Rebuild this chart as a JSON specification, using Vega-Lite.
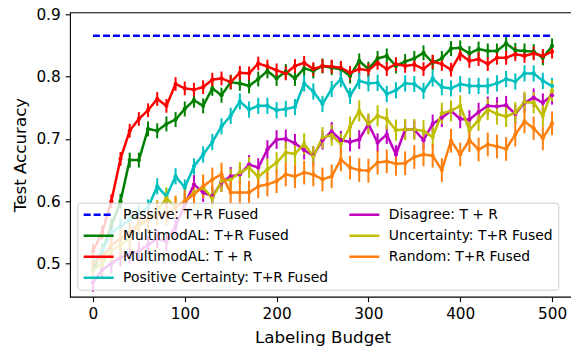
{
  "$schema": "https://vega.github.io/schema/vega-lite/v6.json",
  "width": 505,
  "height": 284.4,
  "autosize": "none",
  "padding": {"left": 70, "top": 12.3, "right": 0, "bottom": 52},
  "background": "white",
  "config": {
    "view": {"stroke": "#000000", "strokeWidth": 1.1},
    "font": "DejaVu Sans",
    "axis": {
      "grid": false, "domain": false, "tickColor": "#000000", "tickSize": 4.9, "tickWidth": 1.1,
      "labelFont": "DejaVu Sans", "labelFontSize": 15.3, "labelColor": "#000000", "labelPadding": 4.9,
      "titleFont": "DejaVu Sans", "titleFontSize": 16.7, "titleFontWeight": "normal", "titleColor": "#000000"
    },
    "legend": {
      "orient": "none", "legendX": 7.3, "legendY": 190.4, "columns": 2, "columnPadding": 15.7, "rowPadding": 6,
      "symbolType": "M-1.12,0H4.88", "symbolSize": 100, "symbolStrokeWidth": 2.5, "symbolFillColor": "transparent",
      "labelFont": "DejaVu Sans", "labelFontSize": 13.9, "labelColor": "#000000", "labelOffset": 26.9, "labelLimit": 400,
      "padding": 5, "fillColor": "rgba(255,255,255,0.8)", "strokeColor": "#cccccc", "cornerRadius": 3
    }
  },
  "data": {"values": [
    {"s":"Passive: T+R Fused","b":0,"v":0.8655,"e":0},{"s":"Passive: T+R Fused","b":500,"v":0.8655,"e":0},
    {"s":"MultimodAL: T+R Fused","b":0,"v":0.49,"e":0.012},{"s":"MultimodAL: T+R Fused","b":10,"v":0.52,"e":0.012},{"s":"MultimodAL: T+R Fused","b":20,"v":0.56,"e":0.012},{"s":"MultimodAL: T+R Fused","b":30,"v":0.6,"e":0.012},{"s":"MultimodAL: T+R Fused","b":40,"v":0.666,"e":0.012},{"s":"MultimodAL: T+R Fused","b":50,"v":0.666,"e":0.012},{"s":"MultimodAL: T+R Fused","b":60,"v":0.716,"e":0.012},{"s":"MultimodAL: T+R Fused","b":70,"v":0.713,"e":0.012},{"s":"MultimodAL: T+R Fused","b":80,"v":0.724,"e":0.012},{"s":"MultimodAL: T+R Fused","b":90,"v":0.731,"e":0.012},
    {"s":"MultimodAL: T+R Fused","b":100,"v":0.748,"e":0.012},{"s":"MultimodAL: T+R Fused","b":110,"v":0.762,"e":0.012},{"s":"MultimodAL: T+R Fused","b":120,"v":0.753,"e":0.012},{"s":"MultimodAL: T+R Fused","b":130,"v":0.781,"e":0.012},{"s":"MultimodAL: T+R Fused","b":140,"v":0.77,"e":0.012},{"s":"MultimodAL: T+R Fused","b":150,"v":0.791,"e":0.012},{"s":"MultimodAL: T+R Fused","b":160,"v":0.789,"e":0.012},{"s":"MultimodAL: T+R Fused","b":170,"v":0.785,"e":0.012},{"s":"MultimodAL: T+R Fused","b":180,"v":0.796,"e":0.012},{"s":"MultimodAL: T+R Fused","b":190,"v":0.809,"e":0.012},
    {"s":"MultimodAL: T+R Fused","b":200,"v":0.797,"e":0.012},{"s":"MultimodAL: T+R Fused","b":210,"v":0.808,"e":0.012},{"s":"MultimodAL: T+R Fused","b":220,"v":0.797,"e":0.012},{"s":"MultimodAL: T+R Fused","b":230,"v":0.813,"e":0.012},{"s":"MultimodAL: T+R Fused","b":240,"v":0.809,"e":0.012},{"s":"MultimodAL: T+R Fused","b":250,"v":0.817,"e":0.012},{"s":"MultimodAL: T+R Fused","b":260,"v":0.814,"e":0.012},{"s":"MultimodAL: T+R Fused","b":270,"v":0.812,"e":0.012},{"s":"MultimodAL: T+R Fused","b":280,"v":0.801,"e":0.012},{"s":"MultimodAL: T+R Fused","b":290,"v":0.825,"e":0.012},
    {"s":"MultimodAL: T+R Fused","b":300,"v":0.812,"e":0.012},{"s":"MultimodAL: T+R Fused","b":310,"v":0.829,"e":0.012},{"s":"MultimodAL: T+R Fused","b":320,"v":0.833,"e":0.012},{"s":"MultimodAL: T+R Fused","b":330,"v":0.817,"e":0.012},{"s":"MultimodAL: T+R Fused","b":340,"v":0.824,"e":0.012},{"s":"MultimodAL: T+R Fused","b":350,"v":0.829,"e":0.012},{"s":"MultimodAL: T+R Fused","b":360,"v":0.838,"e":0.012},{"s":"MultimodAL: T+R Fused","b":370,"v":0.822,"e":0.012},{"s":"MultimodAL: T+R Fused","b":380,"v":0.829,"e":0.012},{"s":"MultimodAL: T+R Fused","b":390,"v":0.845,"e":0.012},
    {"s":"MultimodAL: T+R Fused","b":400,"v":0.846,"e":0.012},{"s":"MultimodAL: T+R Fused","b":410,"v":0.837,"e":0.012},{"s":"MultimodAL: T+R Fused","b":420,"v":0.844,"e":0.012},{"s":"MultimodAL: T+R Fused","b":430,"v":0.841,"e":0.012},{"s":"MultimodAL: T+R Fused","b":440,"v":0.841,"e":0.012},{"s":"MultimodAL: T+R Fused","b":450,"v":0.853,"e":0.012},{"s":"MultimodAL: T+R Fused","b":460,"v":0.842,"e":0.012},{"s":"MultimodAL: T+R Fused","b":470,"v":0.841,"e":0.012},{"s":"MultimodAL: T+R Fused","b":480,"v":0.84,"e":0.012},{"s":"MultimodAL: T+R Fused","b":490,"v":0.83,"e":0.012},{"s":"MultimodAL: T+R Fused","b":500,"v":0.849,"e":0.012},
    {"s":"MultimodAL: T + R","b":0,"v":0.52,"e":0.011},{"s":"MultimodAL: T + R","b":10,"v":0.55,"e":0.011},{"s":"MultimodAL: T + R","b":20,"v":0.6,"e":0.011},{"s":"MultimodAL: T + R","b":30,"v":0.668,"e":0.011},{"s":"MultimodAL: T + R","b":40,"v":0.713,"e":0.011},{"s":"MultimodAL: T + R","b":50,"v":0.732,"e":0.011},{"s":"MultimodAL: T + R","b":60,"v":0.746,"e":0.011},{"s":"MultimodAL: T + R","b":70,"v":0.764,"e":0.011},{"s":"MultimodAL: T + R","b":80,"v":0.753,"e":0.011},{"s":"MultimodAL: T + R","b":90,"v":0.788,"e":0.011},
    {"s":"MultimodAL: T + R","b":100,"v":0.781,"e":0.011},{"s":"MultimodAL: T + R","b":110,"v":0.779,"e":0.011},{"s":"MultimodAL: T + R","b":120,"v":0.783,"e":0.011},{"s":"MultimodAL: T + R","b":130,"v":0.795,"e":0.011},{"s":"MultimodAL: T + R","b":140,"v":0.797,"e":0.011},{"s":"MultimodAL: T + R","b":150,"v":0.791,"e":0.011},{"s":"MultimodAL: T + R","b":160,"v":0.806,"e":0.011},{"s":"MultimodAL: T + R","b":170,"v":0.805,"e":0.011},{"s":"MultimodAL: T + R","b":180,"v":0.821,"e":0.011},{"s":"MultimodAL: T + R","b":190,"v":0.816,"e":0.011},
    {"s":"MultimodAL: T + R","b":200,"v":0.81,"e":0.011},{"s":"MultimodAL: T + R","b":210,"v":0.805,"e":0.011},{"s":"MultimodAL: T + R","b":220,"v":0.817,"e":0.011},{"s":"MultimodAL: T + R","b":230,"v":0.822,"e":0.011},{"s":"MultimodAL: T + R","b":240,"v":0.812,"e":0.011},{"s":"MultimodAL: T + R","b":250,"v":0.817,"e":0.011},{"s":"MultimodAL: T + R","b":260,"v":0.816,"e":0.011},{"s":"MultimodAL: T + R","b":270,"v":0.814,"e":0.011},{"s":"MultimodAL: T + R","b":280,"v":0.806,"e":0.011},{"s":"MultimodAL: T + R","b":290,"v":0.812,"e":0.011},
    {"s":"MultimodAL: T + R","b":300,"v":0.81,"e":0.011},{"s":"MultimodAL: T + R","b":310,"v":0.822,"e":0.011},{"s":"MultimodAL: T + R","b":320,"v":0.812,"e":0.011},{"s":"MultimodAL: T + R","b":330,"v":0.82,"e":0.011},{"s":"MultimodAL: T + R","b":340,"v":0.817,"e":0.011},{"s":"MultimodAL: T + R","b":350,"v":0.819,"e":0.011},{"s":"MultimodAL: T + R","b":360,"v":0.812,"e":0.011},{"s":"MultimodAL: T + R","b":370,"v":0.824,"e":0.011},{"s":"MultimodAL: T + R","b":380,"v":0.82,"e":0.011},{"s":"MultimodAL: T + R","b":390,"v":0.811,"e":0.011},
    {"s":"MultimodAL: T + R","b":400,"v":0.836,"e":0.011},{"s":"MultimodAL: T + R","b":410,"v":0.825,"e":0.011},{"s":"MultimodAL: T + R","b":420,"v":0.828,"e":0.011},{"s":"MultimodAL: T + R","b":430,"v":0.82,"e":0.011},{"s":"MultimodAL: T + R","b":440,"v":0.83,"e":0.011},{"s":"MultimodAL: T + R","b":450,"v":0.83,"e":0.011},{"s":"MultimodAL: T + R","b":460,"v":0.836,"e":0.011},{"s":"MultimodAL: T + R","b":470,"v":0.833,"e":0.011},{"s":"MultimodAL: T + R","b":480,"v":0.837,"e":0.011},{"s":"MultimodAL: T + R","b":490,"v":0.833,"e":0.011},{"s":"MultimodAL: T + R","b":500,"v":0.84,"e":0.011},
    {"s":"Positive Certainty: T+R Fused","b":0,"v":0.5,"e":0.013},{"s":"Positive Certainty: T+R Fused","b":10,"v":0.52,"e":0.013},{"s":"Positive Certainty: T+R Fused","b":20,"v":0.55,"e":0.013},{"s":"Positive Certainty: T+R Fused","b":30,"v":0.56,"e":0.013},{"s":"Positive Certainty: T+R Fused","b":40,"v":0.57,"e":0.013},{"s":"Positive Certainty: T+R Fused","b":50,"v":0.58,"e":0.013},{"s":"Positive Certainty: T+R Fused","b":60,"v":0.59,"e":0.013},{"s":"Positive Certainty: T+R Fused","b":70,"v":0.624,"e":0.013},{"s":"Positive Certainty: T+R Fused","b":80,"v":0.608,"e":0.013},{"s":"Positive Certainty: T+R Fused","b":90,"v":0.64,"e":0.013},
    {"s":"Positive Certainty: T+R Fused","b":100,"v":0.622,"e":0.013},{"s":"Positive Certainty: T+R Fused","b":110,"v":0.656,"e":0.013},{"s":"Positive Certainty: T+R Fused","b":120,"v":0.675,"e":0.013},{"s":"Positive Certainty: T+R Fused","b":130,"v":0.695,"e":0.013},{"s":"Positive Certainty: T+R Fused","b":140,"v":0.72,"e":0.013},{"s":"Positive Certainty: T+R Fused","b":150,"v":0.737,"e":0.013},{"s":"Positive Certainty: T+R Fused","b":160,"v":0.76,"e":0.013},{"s":"Positive Certainty: T+R Fused","b":170,"v":0.747,"e":0.013},{"s":"Positive Certainty: T+R Fused","b":180,"v":0.753,"e":0.013},{"s":"Positive Certainty: T+R Fused","b":190,"v":0.753,"e":0.013},
    {"s":"Positive Certainty: T+R Fused","b":200,"v":0.746,"e":0.013},{"s":"Positive Certainty: T+R Fused","b":210,"v":0.748,"e":0.013},{"s":"Positive Certainty: T+R Fused","b":220,"v":0.751,"e":0.013},{"s":"Positive Certainty: T+R Fused","b":230,"v":0.789,"e":0.013},{"s":"Positive Certainty: T+R Fused","b":240,"v":0.776,"e":0.013},{"s":"Positive Certainty: T+R Fused","b":250,"v":0.756,"e":0.013},{"s":"Positive Certainty: T+R Fused","b":260,"v":0.78,"e":0.013},{"s":"Positive Certainty: T+R Fused","b":270,"v":0.796,"e":0.013},{"s":"Positive Certainty: T+R Fused","b":280,"v":0.769,"e":0.013},{"s":"Positive Certainty: T+R Fused","b":290,"v":0.793,"e":0.013},
    {"s":"Positive Certainty: T+R Fused","b":300,"v":0.789,"e":0.013},{"s":"Positive Certainty: T+R Fused","b":310,"v":0.79,"e":0.013},{"s":"Positive Certainty: T+R Fused","b":320,"v":0.772,"e":0.013},{"s":"Positive Certainty: T+R Fused","b":330,"v":0.778,"e":0.013},{"s":"Positive Certainty: T+R Fused","b":340,"v":0.789,"e":0.013},{"s":"Positive Certainty: T+R Fused","b":350,"v":0.788,"e":0.013},{"s":"Positive Certainty: T+R Fused","b":360,"v":0.777,"e":0.013},{"s":"Positive Certainty: T+R Fused","b":370,"v":0.797,"e":0.013},{"s":"Positive Certainty: T+R Fused","b":380,"v":0.783,"e":0.013},{"s":"Positive Certainty: T+R Fused","b":390,"v":0.781,"e":0.013},
    {"s":"Positive Certainty: T+R Fused","b":400,"v":0.788,"e":0.013},{"s":"Positive Certainty: T+R Fused","b":410,"v":0.785,"e":0.013},{"s":"Positive Certainty: T+R Fused","b":420,"v":0.785,"e":0.013},{"s":"Positive Certainty: T+R Fused","b":430,"v":0.785,"e":0.013},{"s":"Positive Certainty: T+R Fused","b":440,"v":0.789,"e":0.013},{"s":"Positive Certainty: T+R Fused","b":450,"v":0.796,"e":0.013},{"s":"Positive Certainty: T+R Fused","b":460,"v":0.792,"e":0.013},{"s":"Positive Certainty: T+R Fused","b":470,"v":0.805,"e":0.013},{"s":"Positive Certainty: T+R Fused","b":480,"v":0.805,"e":0.013},{"s":"Positive Certainty: T+R Fused","b":490,"v":0.793,"e":0.013},{"s":"Positive Certainty: T+R Fused","b":500,"v":0.785,"e":0.013},
    {"s":"Disagree: T + R","b":0,"v":0.47,"e":0.015},{"s":"Disagree: T + R","b":10,"v":0.49,"e":0.015},{"s":"Disagree: T + R","b":20,"v":0.5,"e":0.015},{"s":"Disagree: T + R","b":30,"v":0.51,"e":0.015},{"s":"Disagree: T + R","b":40,"v":0.515,"e":0.015},{"s":"Disagree: T + R","b":50,"v":0.52,"e":0.015},{"s":"Disagree: T + R","b":60,"v":0.53,"e":0.015},{"s":"Disagree: T + R","b":70,"v":0.54,"e":0.015},{"s":"Disagree: T + R","b":80,"v":0.535,"e":0.015},{"s":"Disagree: T + R","b":90,"v":0.56,"e":0.015},
    {"s":"Disagree: T + R","b":100,"v":0.595,"e":0.015},{"s":"Disagree: T + R","b":110,"v":0.627,"e":0.015},{"s":"Disagree: T + R","b":120,"v":0.614,"e":0.015},{"s":"Disagree: T + R","b":130,"v":0.608,"e":0.015},{"s":"Disagree: T + R","b":140,"v":0.63,"e":0.015},{"s":"Disagree: T + R","b":150,"v":0.64,"e":0.015},{"s":"Disagree: T + R","b":160,"v":0.643,"e":0.015},{"s":"Disagree: T + R","b":170,"v":0.659,"e":0.015},{"s":"Disagree: T + R","b":180,"v":0.654,"e":0.015},{"s":"Disagree: T + R","b":190,"v":0.683,"e":0.015},
    {"s":"Disagree: T + R","b":200,"v":0.699,"e":0.015},{"s":"Disagree: T + R","b":210,"v":0.7,"e":0.015},{"s":"Disagree: T + R","b":220,"v":0.693,"e":0.015},{"s":"Disagree: T + R","b":230,"v":0.682,"e":0.015},{"s":"Disagree: T + R","b":240,"v":0.673,"e":0.015},{"s":"Disagree: T + R","b":250,"v":0.698,"e":0.015},{"s":"Disagree: T + R","b":260,"v":0.712,"e":0.015},{"s":"Disagree: T + R","b":270,"v":0.698,"e":0.015},{"s":"Disagree: T + R","b":280,"v":0.695,"e":0.015},{"s":"Disagree: T + R","b":290,"v":0.699,"e":0.015},
    {"s":"Disagree: T + R","b":300,"v":0.724,"e":0.015},{"s":"Disagree: T + R","b":310,"v":0.694,"e":0.015},{"s":"Disagree: T + R","b":320,"v":0.707,"e":0.015},{"s":"Disagree: T + R","b":330,"v":0.675,"e":0.015},{"s":"Disagree: T + R","b":340,"v":0.715,"e":0.015},{"s":"Disagree: T + R","b":350,"v":0.715,"e":0.015},{"s":"Disagree: T + R","b":360,"v":0.698,"e":0.015},{"s":"Disagree: T + R","b":370,"v":0.724,"e":0.015},{"s":"Disagree: T + R","b":380,"v":0.734,"e":0.015},{"s":"Disagree: T + R","b":390,"v":0.745,"e":0.015},
    {"s":"Disagree: T + R","b":400,"v":0.732,"e":0.015},{"s":"Disagree: T + R","b":410,"v":0.731,"e":0.015},{"s":"Disagree: T + R","b":420,"v":0.743,"e":0.015},{"s":"Disagree: T + R","b":430,"v":0.753,"e":0.015},{"s":"Disagree: T + R","b":440,"v":0.752,"e":0.015},{"s":"Disagree: T + R","b":450,"v":0.754,"e":0.015},{"s":"Disagree: T + R","b":460,"v":0.74,"e":0.015},{"s":"Disagree: T + R","b":470,"v":0.758,"e":0.015},{"s":"Disagree: T + R","b":480,"v":0.766,"e":0.015},{"s":"Disagree: T + R","b":490,"v":0.758,"e":0.015},{"s":"Disagree: T + R","b":500,"v":0.77,"e":0.015},
    {"s":"Uncertainty: T+R Fused","b":0,"v":0.49,"e":0.017},{"s":"Uncertainty: T+R Fused","b":10,"v":0.5,"e":0.017},{"s":"Uncertainty: T+R Fused","b":20,"v":0.52,"e":0.017},{"s":"Uncertainty: T+R Fused","b":30,"v":0.53,"e":0.017},{"s":"Uncertainty: T+R Fused","b":40,"v":0.54,"e":0.017},{"s":"Uncertainty: T+R Fused","b":50,"v":0.56,"e":0.017},{"s":"Uncertainty: T+R Fused","b":60,"v":0.57,"e":0.017},{"s":"Uncertainty: T+R Fused","b":70,"v":0.585,"e":0.017},{"s":"Uncertainty: T+R Fused","b":80,"v":0.605,"e":0.017},{"s":"Uncertainty: T+R Fused","b":90,"v":0.59,"e":0.017},
    {"s":"Uncertainty: T+R Fused","b":100,"v":0.6,"e":0.017},{"s":"Uncertainty: T+R Fused","b":110,"v":0.614,"e":0.017},{"s":"Uncertainty: T+R Fused","b":120,"v":0.622,"e":0.017},{"s":"Uncertainty: T+R Fused","b":130,"v":0.605,"e":0.017},{"s":"Uncertainty: T+R Fused","b":140,"v":0.632,"e":0.017},{"s":"Uncertainty: T+R Fused","b":150,"v":0.635,"e":0.017},{"s":"Uncertainty: T+R Fused","b":160,"v":0.646,"e":0.017},{"s":"Uncertainty: T+R Fused","b":170,"v":0.654,"e":0.017},{"s":"Uncertainty: T+R Fused","b":180,"v":0.639,"e":0.017},{"s":"Uncertainty: T+R Fused","b":190,"v":0.651,"e":0.017},
    {"s":"Uncertainty: T+R Fused","b":200,"v":0.662,"e":0.017},{"s":"Uncertainty: T+R Fused","b":210,"v":0.678,"e":0.017},{"s":"Uncertainty: T+R Fused","b":220,"v":0.676,"e":0.017},{"s":"Uncertainty: T+R Fused","b":230,"v":0.692,"e":0.017},{"s":"Uncertainty: T+R Fused","b":240,"v":0.672,"e":0.017},{"s":"Uncertainty: T+R Fused","b":250,"v":0.702,"e":0.017},{"s":"Uncertainty: T+R Fused","b":260,"v":0.706,"e":0.017},{"s":"Uncertainty: T+R Fused","b":270,"v":0.692,"e":0.017},{"s":"Uncertainty: T+R Fused","b":280,"v":0.719,"e":0.017},{"s":"Uncertainty: T+R Fused","b":290,"v":0.745,"e":0.017},
    {"s":"Uncertainty: T+R Fused","b":300,"v":0.724,"e":0.017},{"s":"Uncertainty: T+R Fused","b":310,"v":0.737,"e":0.017},{"s":"Uncertainty: T+R Fused","b":320,"v":0.732,"e":0.017},{"s":"Uncertainty: T+R Fused","b":330,"v":0.714,"e":0.017},{"s":"Uncertainty: T+R Fused","b":340,"v":0.715,"e":0.017},{"s":"Uncertainty: T+R Fused","b":350,"v":0.715,"e":0.017},{"s":"Uncertainty: T+R Fused","b":360,"v":0.713,"e":0.017},{"s":"Uncertainty: T+R Fused","b":370,"v":0.703,"e":0.017},{"s":"Uncertainty: T+R Fused","b":380,"v":0.741,"e":0.017},{"s":"Uncertainty: T+R Fused","b":390,"v":0.745,"e":0.017},
    {"s":"Uncertainty: T+R Fused","b":400,"v":0.753,"e":0.017},{"s":"Uncertainty: T+R Fused","b":410,"v":0.714,"e":0.017},{"s":"Uncertainty: T+R Fused","b":420,"v":0.73,"e":0.017},{"s":"Uncertainty: T+R Fused","b":430,"v":0.747,"e":0.017},{"s":"Uncertainty: T+R Fused","b":440,"v":0.74,"e":0.017},{"s":"Uncertainty: T+R Fused","b":450,"v":0.736,"e":0.017},{"s":"Uncertainty: T+R Fused","b":460,"v":0.742,"e":0.017},{"s":"Uncertainty: T+R Fused","b":470,"v":0.759,"e":0.017},{"s":"Uncertainty: T+R Fused","b":480,"v":0.758,"e":0.017},{"s":"Uncertainty: T+R Fused","b":490,"v":0.737,"e":0.017},{"s":"Uncertainty: T+R Fused","b":500,"v":0.777,"e":0.017},
    {"s":"Random: T+R Fused","b":0,"v":0.5,"e":0.019},{"s":"Random: T+R Fused","b":10,"v":0.51,"e":0.019},{"s":"Random: T+R Fused","b":20,"v":0.53,"e":0.019},{"s":"Random: T+R Fused","b":30,"v":0.54,"e":0.019},{"s":"Random: T+R Fused","b":40,"v":0.55,"e":0.019},{"s":"Random: T+R Fused","b":50,"v":0.565,"e":0.019},{"s":"Random: T+R Fused","b":60,"v":0.57,"e":0.019},{"s":"Random: T+R Fused","b":70,"v":0.58,"e":0.019},{"s":"Random: T+R Fused","b":80,"v":0.58,"e":0.019},{"s":"Random: T+R Fused","b":90,"v":0.59,"e":0.019},
    {"s":"Random: T+R Fused","b":100,"v":0.6,"e":0.019},{"s":"Random: T+R Fused","b":110,"v":0.611,"e":0.019},{"s":"Random: T+R Fused","b":120,"v":0.624,"e":0.019},{"s":"Random: T+R Fused","b":130,"v":0.635,"e":0.019},{"s":"Random: T+R Fused","b":140,"v":0.643,"e":0.019},{"s":"Random: T+R Fused","b":150,"v":0.614,"e":0.019},{"s":"Random: T+R Fused","b":160,"v":0.614,"e":0.019},{"s":"Random: T+R Fused","b":170,"v":0.614,"e":0.019},{"s":"Random: T+R Fused","b":180,"v":0.624,"e":0.019},{"s":"Random: T+R Fused","b":190,"v":0.627,"e":0.019},
    {"s":"Random: T+R Fused","b":200,"v":0.632,"e":0.019},{"s":"Random: T+R Fused","b":210,"v":0.643,"e":0.019},{"s":"Random: T+R Fused","b":220,"v":0.64,"e":0.019},{"s":"Random: T+R Fused","b":230,"v":0.646,"e":0.019},{"s":"Random: T+R Fused","b":240,"v":0.643,"e":0.019},{"s":"Random: T+R Fused","b":250,"v":0.635,"e":0.019},{"s":"Random: T+R Fused","b":260,"v":0.64,"e":0.019},{"s":"Random: T+R Fused","b":270,"v":0.667,"e":0.019},{"s":"Random: T+R Fused","b":280,"v":0.654,"e":0.019},{"s":"Random: T+R Fused","b":290,"v":0.65,"e":0.019},
    {"s":"Random: T+R Fused","b":300,"v":0.649,"e":0.019},{"s":"Random: T+R Fused","b":310,"v":0.662,"e":0.019},{"s":"Random: T+R Fused","b":320,"v":0.664,"e":0.019},{"s":"Random: T+R Fused","b":330,"v":0.66,"e":0.019},{"s":"Random: T+R Fused","b":340,"v":0.661,"e":0.019},{"s":"Random: T+R Fused","b":350,"v":0.671,"e":0.019},{"s":"Random: T+R Fused","b":360,"v":0.675,"e":0.019},{"s":"Random: T+R Fused","b":370,"v":0.673,"e":0.019},{"s":"Random: T+R Fused","b":380,"v":0.65,"e":0.019},{"s":"Random: T+R Fused","b":390,"v":0.697,"e":0.019},
    {"s":"Random: T+R Fused","b":400,"v":0.675,"e":0.019},{"s":"Random: T+R Fused","b":410,"v":0.698,"e":0.019},{"s":"Random: T+R Fused","b":420,"v":0.683,"e":0.019},{"s":"Random: T+R Fused","b":430,"v":0.691,"e":0.019},{"s":"Random: T+R Fused","b":440,"v":0.688,"e":0.019},{"s":"Random: T+R Fused","b":450,"v":0.684,"e":0.019},{"s":"Random: T+R Fused","b":460,"v":0.707,"e":0.019},{"s":"Random: T+R Fused","b":470,"v":0.728,"e":0.019},{"s":"Random: T+R Fused","b":480,"v":0.717,"e":0.019},{"s":"Random: T+R Fused","b":490,"v":0.701,"e":0.019},{"s":"Random: T+R Fused","b":500,"v":0.725,"e":0.019}
  ]},
  "encoding": {
    "x": {"field": "b", "type": "quantitative", "title": "Labeling Budget",
      "scale": {"domain": [-25, 525], "nice": false, "zero": false},
      "axis": {"values": [0, 100, 200, 300, 400, 500], "titlePadding": 8}},
    "y": {"field": "v", "type": "quantitative", "title": "Test Accuracy",
      "scale": {"domain": [0.447, 0.903], "nice": false, "zero": false},
      "axis": {"values": [0.5, 0.6, 0.7, 0.8, 0.9], "format": ".1f", "titlePadding": 6}},
    "color": {"field": "s", "type": "nominal", "legend": {"title": null},
      "scale": {"domain": ["Passive: T+R Fused", "MultimodAL: T+R Fused", "MultimodAL: T + R", "Positive Certainty: T+R Fused", "Disagree: T + R", "Uncertainty: T+R Fused", "Random: T+R Fused"],
        "range": ["#0000ff", "#008000", "#ff0000", "#00bfbf", "#bf00bf", "#bfbf00", "#ff7f0e"]}}
  },
  "layer": [
    {"transform": [{"filter": "datum.e > 0"}],
     "mark": {"type": "errorbar", "thickness": 2},
     "encoding": {"yError": {"field": "e"}}},
    {"mark": {"type": "line", "strokeWidth": 2.5},
     "encoding": {
       "strokeDash": {"field": "s", "type": "nominal", "legend": {"title": null},
         "scale": {"domain": ["Passive: T+R Fused", "MultimodAL: T+R Fused", "MultimodAL: T + R", "Positive Certainty: T+R Fused", "Disagree: T + R", "Uncertainty: T+R Fused", "Random: T+R Fused"],
           "range": [[7, 3], [1, 0], [1, 0], [1, 0], [1, 0], [1, 0], [1, 0]]}}}},
    {"transform": [{"filter": "datum.e > 0"}],
     "mark": {"type": "point", "filled": true, "opacity": 1, "size": 18}}
  ]
}
